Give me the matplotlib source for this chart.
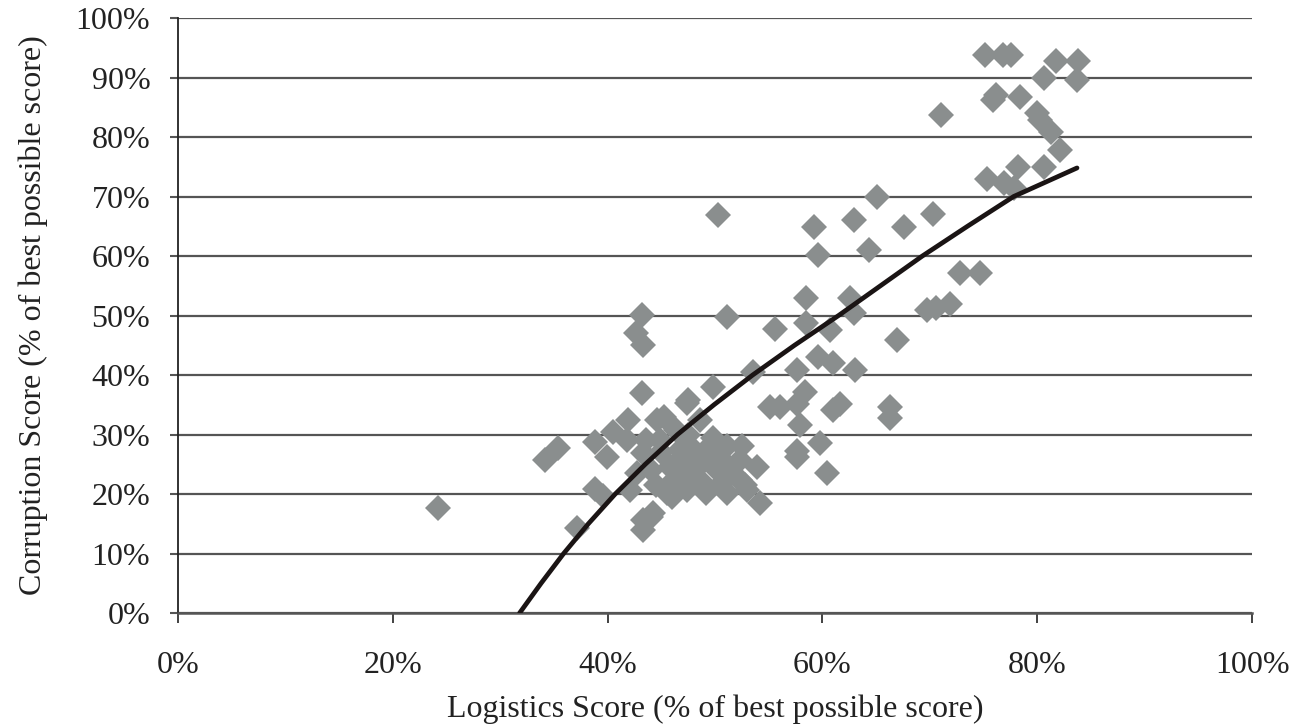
import numpy as np
import matplotlib
matplotlib.use("Agg")
import matplotlib.pyplot as plt
from matplotlib.ticker import PercentFormatter

# scatter data (% of best possible score)
logistics = [24.2, 34.2, 35.4, 37.1, 38.8, 38.8, 39.6, 39.9, 41.8, 41.9,
             42.6, 43.3, 43.2, 43.2, 42.1, 42.7, 43.3, 43.6, 44.6, 44.9,
             45.2, 46.4, 47.4, 48.6, 49.8, 49.5, 51.1, 52.3, 53.9, 50.2,
             48.0, 45.8, 45.5, 47.4, 49.2, 51.1, 53.0, 54.2, 44.0, 43.3,
             43.3, 44.2, 46.7, 48.6, 52.3, 47.0, 49.8, 50.5, 46.0, 48.2,
             51.5, 44.5, 50.3, 59.2, 62.9, 65.1, 59.6, 64.3, 58.5, 51.1,
             55.6, 58.5, 60.7, 62.9, 62.6, 66.9, 59.6, 61.0, 57.6, 63.0,
             47.5, 55.1, 56.0, 58.4, 57.6, 61.0, 61.6, 66.3, 66.3, 57.9,
             59.8, 57.6, 57.6, 60.4, 67.6, 70.3, 72.8, 74.7, 69.7, 70.6,
             71.9, 71.0, 75.1, 76.8, 77.6, 81.7, 83.8, 80.6, 83.7, 75.9,
             76.2, 78.4, 80.0, 80.3, 81.3, 82.1, 78.2, 80.6, 75.3, 76.9,
             77.8, 53.5, 40.5, 46.8, 52.8, 50.8, 45.0, 47.5, 49.0, 51.0,
             52.5, 46.0, 50.5, 44.0]
corruption = [17.6, 25.7, 27.7, 14.3, 28.8, 20.9, 19.6, 26.3, 29.0, 32.4,
              47.0, 45.0, 50.1, 36.9, 20.7, 23.5, 26.9, 29.0, 32.4, 29.0,
              33.0, 30.8, 35.3, 32.4, 38.0, 28.0, 28.0, 25.7, 24.6, 24.0,
              24.6, 24.6, 20.1, 20.7, 20.1, 20.1, 20.7, 18.5, 16.2, 14.0,
              15.6, 16.8, 27.4, 22.4, 22.4, 22.9, 29.5, 26.0, 22.0, 27.0,
              23.5, 21.5, 66.9, 64.9, 66.0, 70.0, 60.2, 61.0, 52.9, 49.8,
              47.8, 48.7, 47.6, 50.4, 53.0, 45.9, 43.1, 42.0, 40.8, 40.8,
              35.8, 34.7, 34.7, 37.2, 35.2, 34.1, 35.2, 34.7, 32.7, 31.6,
              28.5, 26.3, 27.2, 23.5, 64.9, 67.0, 57.1, 57.1, 50.9, 51.2,
              52.0, 83.7, 93.8, 93.8, 93.8, 92.7, 92.7, 89.9, 89.6, 86.2,
              87.0, 86.8, 84.0, 82.9, 80.9, 77.8, 75.0, 75.0, 73.0, 72.2,
              71.4, 40.5, 30.5, 26.0, 21.5, 25.0, 27.0, 30.0, 25.5, 25.0,
              28.0, 19.5, 21.5, 24.0]

# trend line
trend_x = [31.8, 33.8, 35.9, 38.2, 40.7, 43.5, 46.5, 49.9, 53.5, 57.4,
           61.5, 65.4, 69.3, 73.5, 77.8, 83.7]
trend_y = [0, 5, 10, 15, 20, 25, 30, 35, 40, 45,
           50, 55, 60, 65, 70, 74.8]

plt.rcParams['font.family'] = ['Liberation Serif', 'DejaVu Serif']

fig = plt.figure(figsize=(12.94, 7.26), dpi=100)
ax = fig.add_axes([0.1376, 0.1556, 0.8300, 0.8196])

ax.set_xlim(0, 100)
ax.set_ylim(0, 100)
ax.set_xticks(np.arange(0, 101, 20))
ax.set_yticks(np.arange(0, 101, 10))
ax.xaxis.set_major_formatter(PercentFormatter(decimals=0))
ax.yaxis.set_major_formatter(PercentFormatter(decimals=0))

ax.grid(axis='y', color='#555555', linewidth=1.6, zorder=0)
ax.set_axisbelow(True)

ax.plot(logistics, corruption, linestyle='none', marker='D', markersize=13,
        color='#8a8e8e', markeredgewidth=0, zorder=2)
ax.plot(trend_x, trend_y, color='#1a1414', linewidth=3.4, zorder=3,
        solid_capstyle='round', solid_joinstyle='round')

for s in ['top', 'right']:
    ax.spines[s].set_visible(False)
ax.spines['left'].set_color('#222222')
ax.spines['left'].set_linewidth(1.3)
ax.spines['bottom'].set_color('#555555')
ax.spines['bottom'].set_linewidth(1.8)

ax.tick_params(axis='y', length=6, width=1.5, color='#555555', pad=14,
               labelsize=23, labelcolor='#222222')
ax.tick_params(axis='x', length=7, width=1.3, color='#333333', pad=20,
               labelsize=23, labelcolor='#222222')

ax.set_xlabel('Logistics Score (% of best possible score)', fontsize=23,
              color='#222222', labelpad=11)
ax.set_ylabel('Corruption Score (% of best possible score)', fontsize=23,
              color='#222222', labelpad=20)

fig.savefig('out.png', dpi=100)
